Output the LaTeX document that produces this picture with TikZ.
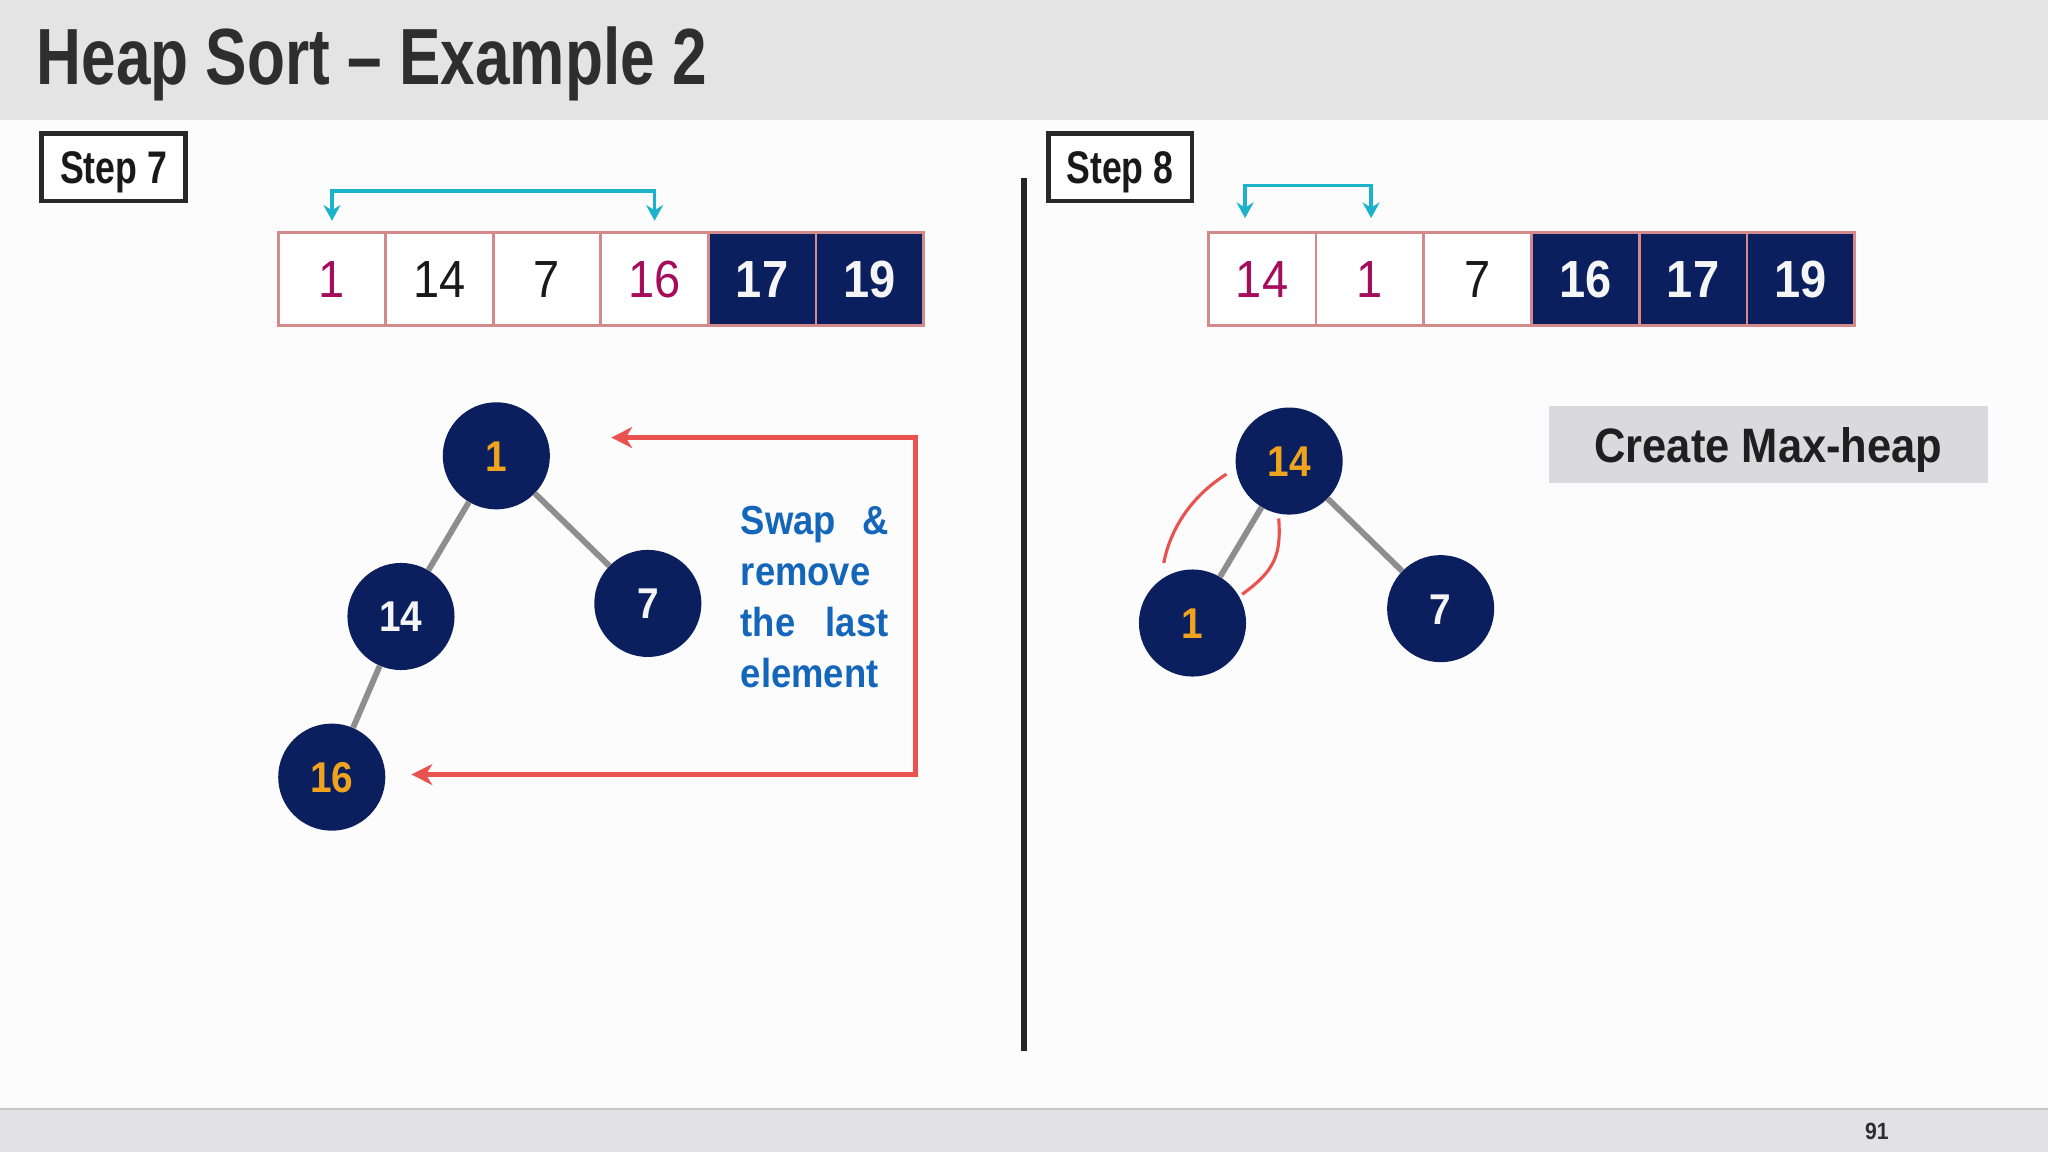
\documentclass[tikz,border=0pt]{standalone}
\usepackage{fontspec}
\setmainfont{Liberation Sans}
\newfontfamily\condf[FakeStretch=0.78]{Liberation Sans}
\newfontfamily\numf[FakeStretch=0.9]{Liberation Sans}
\usetikzlibrary{arrows.meta}
\definecolor{navy}{HTML}{0B1F5F}
\definecolor{orng}{HTML}{F0A41E}
\definecolor{magn}{HTML}{A50D5C}
\definecolor{cellbd}{HTML}{D48A8A}
\definecolor{cyn}{HTML}{1BB3CB}
\definecolor{redc}{HTML}{E9524F}
\definecolor{bluet}{HTML}{1466BA}
\definecolor{edgeg}{HTML}{8E8E8E}
\definecolor{bandg}{HTML}{E4E4E4}
\definecolor{boxg}{HTML}{DAD9DD}
\definecolor{darkt}{HTML}{2E2E2E}
\definecolor{footg}{HTML}{E2E1E4}
\definecolor{whitet}{HTML}{F5F5F5}
\tikzset{
  cellbase/.style={draw=cellbd, line width=2pt, minimum width=82.3pt, minimum height=71pt, inner sep=0pt, text height=28pt, text depth=0pt},
  pinkcell/.style={cellbase, fill=white, text=magn, font=\numf\fontsize{40}{40}\selectfont},
  plaincell/.style={cellbase, fill=white, text=black!90, font=\numf\fontsize{40}{40}\selectfont},
  navycell/.style={cellbase, fill=navy, text=whitet, font=\numf\bfseries\fontsize{40}{40}\selectfont},
  treenode/.style={circle, fill=navy, minimum size=82pt, inner sep=0pt, font=\numf\bfseries\fontsize{33}{33}\selectfont, text height=23.5pt, text depth=0pt},
  orangenode/.style={treenode, text=orng},
  whitenode/.style={treenode, text=whitet},
  treeedge/.style={draw=edgeg, line width=4.5pt},
  cyanline/.style={draw=cyn, line width=2.8pt, {Stealth[length=12pt, width=13pt, inset=4pt]}-{Stealth[length=12pt, width=13pt, inset=4pt]}},
  redline/.style={draw=redc, line width=3.8pt},
  stepbox/.style={draw=darkt!90!black, line width=3.6pt, fill=white, minimum width=110pt, minimum height=52pt, inner sep=0pt, text=black!90, font=\condf\bfseries\fontsize{35}{35}\selectfont, text height=25pt, text depth=0pt}
}
\begin{document}
\begin{tikzpicture}[x=1pt,y=-1pt]
\useasboundingbox (0,0) rectangle (1568,882);
% backgrounds
\fill[white!99!black] (0,0) rectangle (1568,882);
\fill[bandg] (0,0) rectangle (1568,92);
\fill[footg] (0,849) rectangle (1568,882);
\draw[black!22, line width=2pt] (0,849) -- (1568,849);
% title
\node[anchor=base west, inner sep=0pt, text=darkt, font=\condf\bfseries\fontsize{61}{61}\selectfont] (title) at (28,65) {Heap Sort – Example 2};
% step boxes
\node[stepbox] (s7) at (87,128) {Step 7};
\node[stepbox] (s8) at (857.5,128) {Step 8};
% divider
\coordinate (dtop) at (784,136);
\coordinate (dbot) at (784,805);
\draw[darkt!80!black, line width=4pt] (dtop) -- (dbot);
% array step 7
\node[pinkcell]  (a1) at (254.17,213.5) {1};
\node[plaincell] (a2) at (336.5,213.5) {14};
\node[plaincell] (a3) at (418.83,213.5) {7};
\node[pinkcell]  (a4) at (501.17,213.5) {16};
\node[navycell]  (a5) at (583.5,213.5) {17};
\node[navycell]  (a6) at (665.83,213.5) {19};
\draw[cyanline] ([yshift=8pt]a1.north) -- ++(0,-23) -| ([yshift=8pt]a4.north);
% array step 8
\node[pinkcell]  (b1) at (966.25,213.5) {14};
\node[pinkcell]  (b2) at (1048.75,213.5) {1};
\node[plaincell] (b3) at (1131.25,213.5) {7};
\node[navycell]  (b4) at (1213.75,213.5) {16};
\node[navycell]  (b5) at (1296.25,213.5) {17};
\node[navycell]  (b6) at (1378.75,213.5) {19};
\draw[cyanline] ([xshift=-13pt,yshift=10pt]b1.north) -- ++(0,-25) -| ([xshift=1pt,yshift=10pt]b2.north);
% tree step 7
\node[orangenode] (t1) at (380,349) {1};
\node[whitenode]  (t14) at (307,472) {14};
\node[whitenode]  (t7) at (496,462) {7};
\node[orangenode] (t16) at (254,595) {16};
\draw[treeedge] (t1) -- (t14);
\draw[treeedge] (t1) -- (t7);
\draw[treeedge] (t14) -- (t16);
% red arrow
\coordinate (rtop) at (468,335);
\coordinate (rbot) at (315,593);
\draw[redline, {Stealth[length=16pt, width=16pt, inset=5pt]}-{Stealth[length=16pt, width=16pt, inset=5pt]}] (rtop) -- ++(233,0) |- (rbot);
% explanation text
\node[anchor=north west, inner sep=0pt, align=left, text=bluet, font=\numf\bfseries\fontsize{31}{39}\selectfont] (swaptext) at (567,387.5)
  {\makebox[113pt][s]{Swap \&}\\ \makebox[113pt][l]{remove}\\ \makebox[113pt][s]{the last}\\ \makebox[113pt][l]{element}};
% tree step 8
\node[orangenode] (u14) at (987,353) {14};
\node[orangenode] (u1) at (913,477) {1};
\node[whitenode]  (u7) at (1103,466) {7};
\draw[treeedge] (u14) -- (u1);
\draw[treeedge] (u14) -- (u7);
\draw[redline, line width=2.4pt] (939,363) .. controls (912,380) and (896,405) .. (891,431);
\draw[redline, line width=2.4pt] (979,397) .. controls (981,425) and (976,437) .. (951,455);
% create max-heap
\node[fill=boxg, minimum width=336pt, minimum height=59pt, inner sep=0pt, text=black!88, font=\numf\bfseries\fontsize{37}{37}\selectfont, text height=27pt, text depth=0pt] (cmh) at (1354,340.5) {Create Max-heap};
% page number
\node[inner sep=0pt, text=darkt, font=\numf\bfseries\fontsize{18}{18}\selectfont, text height=13pt, text depth=0pt] (pg) at (1437,866) {91};
\end{tikzpicture}
\end{document}
